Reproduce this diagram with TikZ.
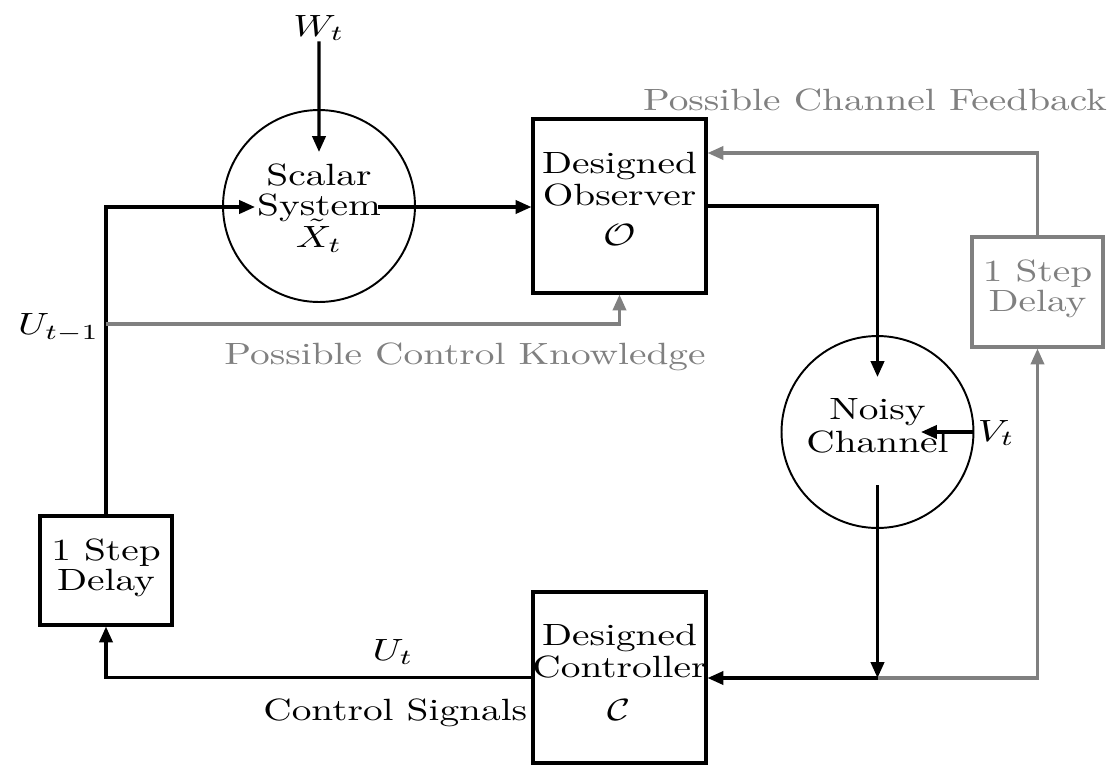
\documentclass[tikz,border=0pt]{standalone}
\usetikzlibrary{arrows.meta}
\definecolor{fbgray}{gray}{0.5}
\begin{document}
\begin{tikzpicture}[x=0.02cm,y=-0.02cm,
  txt/.style={xscale=2.24, yscale=1.75, font={\fontsize{10}{10.6}\selectfont\lineskiplimit=-20pt}, inner sep=0pt, align=center},
  tighttxt/.style={txt, font={\fontsize{10}{9.8}\selectfont\lineskiplimit=-20pt}},
  blk/.style={draw, line width=1.8pt, rectangle, inner sep=0pt},
  gblk/.style={draw=fbgray, line width=1.8pt, rectangle, inner sep=0pt},
  circ/.style={draw, line width=1.1pt, circle, minimum size=3.84cm, inner sep=0pt},
  conn/.style={line width=1.8pt, -{Triangle[length=9pt,width=7.5pt]}},
  gconn/.style={draw=fbgray, line width=1.8pt, -{Triangle[length=9pt,width=7.5pt]}},
  glabel/.style={txt, text=fbgray}
]
\useasboundingbox (0,0) rectangle (1120,765);

% main blocks
\node[circ] (sys) at (319,206) {};
\node[tighttxt] (systxt) at (319,208) {Scalar\\System\\[0.6pt]$\tilde{X}_t$};
\node[blk, minimum width=3.46cm, minimum height=3.48cm] (obs) at (619.5,206) {};
\node[txt] (obstxt) at (619.5,199) {Designed\\Observer\\[2.4pt]$\mathcal{O}$};
\node[circ] (chan) at (877.5,432) {};
\node[txt] (chantxt) at (877.5,426) {Noisy\\Channel};
\node[blk, minimum width=3.46cm, minimum height=3.42cm] (ctrl) at (619.5,677.5) {};
\node[txt] (ctrltxt) at (619.5,672) {Designed\\Controller\\[3.3pt]$\mathcal{C}$};
\node[blk, minimum width=2.64cm, minimum height=2.18cm] (dl) at (106,570.5) {};
\node[tighttxt] (dltxt) at (106,568) {1 Step\\Delay};
\node[gblk, minimum width=2.62cm, minimum height=2.2cm] (dr) at (1037.5,292) {};
\node[tighttxt, text=fbgray] (drtxt) at (1037.5,289) {1 Step\\Delay};

% labels
\node[txt] (w) at (319,28) {$W_t$};
\node[txt, anchor=west] (v) at (977,433) {$V_t$};
\node[txt, anchor=east] (u1) at (100,328) {$U_{t-1}$};
\node[txt] (ut) at (393,652) {$U_t$};
\node[txt, anchor=east] (cs) at (528,713) {Control Signals};
\node[glabel] (pcf) at (875,100) {Possible Channel Feedback};
\node[glabel] (pck) at (465,357) {Possible Control Knowledge};

% coordinates
\coordinate (wend) at (319,152);
\coordinate (lc) at (106,207);
\coordinate (sysin) at (255,207);
\coordinate (sysout) at (378,207);
\coordinate (chin) at (877.5,377);
\coordinate (vend) at (921,432);
\coordinate (chout) at (877.5,485);
\coordinate (junc) at (877.5,678);
\coordinate (fbk) at (1037.5,153);
\coordinate (ukl) at (106,324);

% black connectors
\draw[conn] (w) -- (wend);
\draw[conn] (dl) -- (lc) -- (sysin);
\draw[conn] (sysout) -- (sysout -| obs.west);
\draw[conn] (obs.east) -- (obs.east -| chan) -- (chin);
\draw[conn] (chan.east) -- (vend);
\draw[conn] (chout) -- (junc);
\draw[conn] (junc) -- (junc -| ctrl.east);
\draw[conn] (ctrl.west) -- (ctrl.west -| dl) -- (dl.south);

% gray connectors
\draw[gconn] (junc) -- (junc -| dr) -- (dr.south);
\draw[gconn] (dr.north) -- (fbk) -- (fbk -| obs.east);
\draw[gconn] (ukl) -- (ukl -| obs.south) -- (obs.south);
\end{tikzpicture}
\end{document}
